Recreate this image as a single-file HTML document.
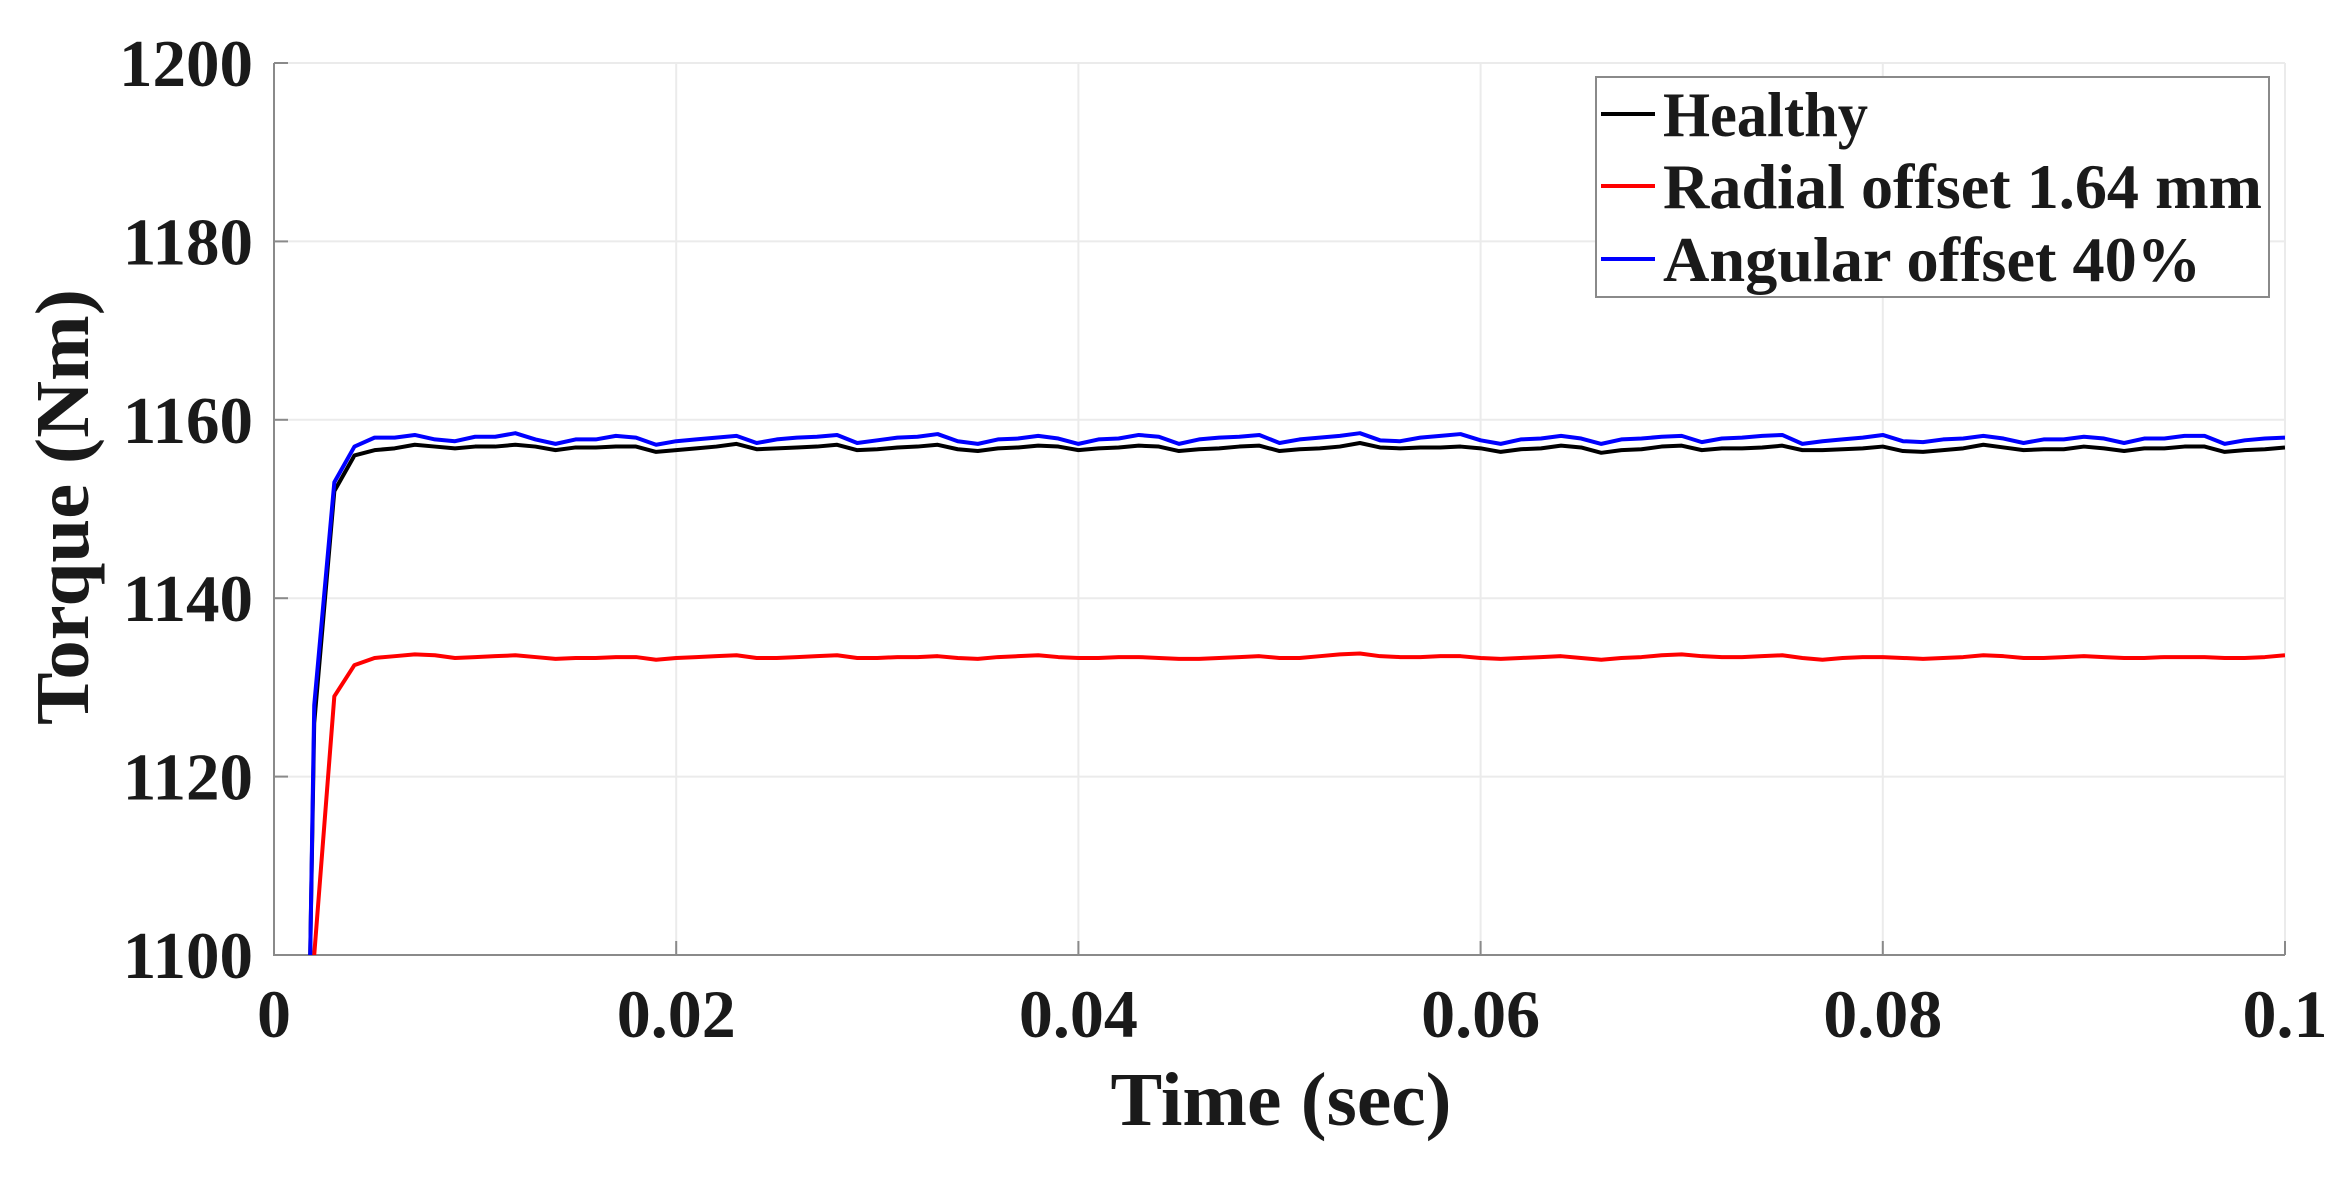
<!DOCTYPE html>
<html><head><meta charset="utf-8"><style>
html,body{margin:0;padding:0;background:#fff;}
svg{display:block;}
text{font-family:"Liberation Serif",serif;font-weight:bold;fill:#1a1a1a;}
</style></head><body>
<svg id="chart" width="2347" height="1179" viewBox="0 0 2347 1179" xmlns="http://www.w3.org/2000/svg">
<rect x="0" y="0" width="2347" height="1179" fill="#fff"/>
<g id="grid"></g>
<g id="axes"></g>
<g id="series"></g>
<g id="legend"></g>
</svg>
<script>
const xTicks = [0, 0.02, 0.04, 0.06, 0.08, 0.1];
const xTickLabels = ["0", "0.02", "0.04", "0.06", "0.08", "0.1"];
const yTicks = [1100, 1120, 1140, 1160, 1180, 1200];
const yTickLabels = ["1100", "1120", "1140", "1160", "1180", "1200"];
const seriesNames = ["Healthy", "Radial offset 1.64 mm", "Angular offset 40%"];
const startTimes = [0.0018, 0.002];
const healthy = [1100, 1126, 1152, 1156, 1156.6, 1156.8, 1157.2, 1157.0, 1156.8, 1157.0, 1157.0, 1157.2, 1157.0, 1156.6, 1156.9, 1156.9, 1157.0, 1157.0, 1156.4, 1156.6, 1156.8, 1157.0, 1157.3, 1156.7, 1156.8, 1156.9, 1157.0, 1157.2, 1156.6, 1156.7, 1156.9, 1157.0, 1157.2, 1156.7, 1156.5, 1156.8, 1156.9, 1157.1, 1157.0, 1156.6, 1156.8, 1156.9, 1157.1, 1157.0, 1156.5, 1156.7, 1156.8, 1157.0, 1157.1, 1156.5, 1156.7, 1156.8, 1157.0, 1157.4, 1156.9, 1156.8, 1156.9, 1156.9, 1157.0, 1156.8, 1156.4, 1156.7, 1156.8, 1157.1, 1156.9, 1156.3, 1156.6, 1156.7, 1157.0, 1157.1, 1156.6, 1156.8, 1156.8, 1156.9, 1157.1, 1156.6, 1156.6, 1156.7, 1156.8, 1157.0, 1156.5, 1156.4, 1156.6, 1156.8, 1157.2, 1156.9, 1156.6, 1156.7, 1156.7, 1157.0, 1156.8, 1156.5, 1156.8, 1156.8, 1157.0, 1157.0, 1156.4, 1156.6, 1156.7, 1156.9];
const radial = [1096, 1100, 1129, 1132.5, 1133.3, 1133.5, 1133.7, 1133.6, 1133.3, 1133.4, 1133.5, 1133.6, 1133.4, 1133.2, 1133.3, 1133.3, 1133.4, 1133.4, 1133.1, 1133.3, 1133.4, 1133.5, 1133.6, 1133.3, 1133.3, 1133.4, 1133.5, 1133.6, 1133.3, 1133.3, 1133.4, 1133.4, 1133.5, 1133.3, 1133.2, 1133.4, 1133.5, 1133.6, 1133.4, 1133.3, 1133.3, 1133.4, 1133.4, 1133.3, 1133.2, 1133.2, 1133.3, 1133.4, 1133.5, 1133.3, 1133.3, 1133.5, 1133.7, 1133.8, 1133.5, 1133.4, 1133.4, 1133.5, 1133.5, 1133.3, 1133.2, 1133.3, 1133.4, 1133.5, 1133.3, 1133.1, 1133.3, 1133.4, 1133.6, 1133.7, 1133.5, 1133.4, 1133.4, 1133.5, 1133.6, 1133.3, 1133.1, 1133.3, 1133.4, 1133.4, 1133.3, 1133.2, 1133.3, 1133.4, 1133.6, 1133.5, 1133.3, 1133.3, 1133.4, 1133.5, 1133.4, 1133.3, 1133.3, 1133.4, 1133.4, 1133.4, 1133.3, 1133.3, 1133.4, 1133.6];
const angular = [1100, 1128, 1153, 1157, 1158, 1158, 1158.3, 1157.8, 1157.6, 1158.1, 1158.1, 1158.5, 1157.8, 1157.3, 1157.8, 1157.8, 1158.2, 1158.0, 1157.2, 1157.6, 1157.8, 1158.0, 1158.2, 1157.4, 1157.8, 1158.0, 1158.1, 1158.3, 1157.4, 1157.7, 1158.0, 1158.1, 1158.4, 1157.6, 1157.3, 1157.8, 1157.9, 1158.2, 1157.9, 1157.3, 1157.8, 1157.9, 1158.3, 1158.1, 1157.3, 1157.8, 1158.0, 1158.1, 1158.3, 1157.4, 1157.8, 1158.0, 1158.2, 1158.5, 1157.7, 1157.6, 1158.0, 1158.2, 1158.4, 1157.7, 1157.3, 1157.8, 1157.9, 1158.2, 1157.9, 1157.3, 1157.8, 1157.9, 1158.1, 1158.2, 1157.5, 1157.9, 1158.0, 1158.2, 1158.3, 1157.3, 1157.6, 1157.8, 1158.0, 1158.3, 1157.6, 1157.5, 1157.8, 1157.9, 1158.2, 1157.9, 1157.4, 1157.8, 1157.8, 1158.1, 1157.9, 1157.4, 1157.9, 1157.9, 1158.2, 1158.2, 1157.3, 1157.7, 1157.9, 1158.0];

const NS = "http://www.w3.org/2000/svg";
const L = 274, R = 2285, T = 63, B = 955;
const xMin = 0, xMax = 0.1, yMin = 1100, yMax = 1200;
function xs(v){ return L + (v - xMin) / (xMax - xMin) * (R - L); }
function ys(v){ return B - (v - yMin) / (yMax - yMin) * (B - T); }
function mk(tag, attrs, parent){ const e = document.createElementNS(NS, tag); for (const k in attrs) e.setAttribute(k, attrs[k]); parent.appendChild(e); return e; }
function timeAt(i){ return i < startTimes.length ? startTimes[i] : 0.002 + (i - 1) * 0.001; }

const grid = document.getElementById('grid');
const axes = document.getElementById('axes');
xTicks.forEach((t, i) => {
  const g = mk('line', {x1: xs(t), x2: xs(t), y1: T, y2: B, stroke: '#ebebeb', 'stroke-width': 2}, grid);
  
  
  const tk = mk('line', {x1: xs(t), x2: xs(t), y1: B, y2: B - 14, stroke: '#8a8a8a', 'stroke-width': 2}, axes);
  
  
  const lb = mk('text', {x: xs(t), y: 1037, 'text-anchor': 'middle', 'font-size': 68}, axes);
  lb.textContent = xTickLabels[i];
  
  
});
yTicks.forEach((t, i) => {
  const g = mk('line', {x1: L, x2: R, y1: ys(t), y2: ys(t), stroke: '#ebebeb', 'stroke-width': 2}, grid);
  
  
  const tk = mk('line', {x1: L, x2: L + 14, y1: ys(t), y2: ys(t), stroke: '#8a8a8a', 'stroke-width': 2}, axes);
  
  
  const lb = mk('text', {x: 253, y: ys(t) + 23, 'text-anchor': 'end', 'font-size': 67}, axes);
  lb.textContent = yTickLabels[i];
  
  
});
const frame = mk('path', {d: `M${L},${T} V${B} H${R}`, fill: 'none', stroke: '#8a8a8a', 'stroke-width': 2}, axes);


const xt = mk('text', {x: 1281, y: 1125, 'text-anchor': 'middle', 'font-size': 76, textLength: 341, lengthAdjust: 'spacingAndGlyphs'}, axes);
xt.textContent = 'Time (sec)';


const yt = mk('text', {x: 0, y: 0, 'text-anchor': 'middle', 'font-size': 76, textLength: 436, lengthAdjust: 'spacingAndGlyphs', transform: 'translate(88,507) rotate(-90)'}, axes);
yt.textContent = 'Torque (Nm)';



const series = document.getElementById('series');
mk('clipPath', {id: 'clip'}, series).appendChild((() => { const r = document.createElementNS(NS, 'rect'); r.setAttribute('x', L); r.setAttribute('y', T); r.setAttribute('width', R - L); r.setAttribute('height', B - T); return r; })());
const colors = ['#000000', '#ff0000', '#0000ff'];
const data = [healthy, radial, angular];
const order = [1, 0, 2];
order.forEach(si => {
  const vals = data[si];
  const pts = vals.map((v, i) => xs(timeAt(i)).toFixed(2) + ',' + ys(v).toFixed(2)).join(' ');
  const pl = mk('polyline', {points: pts, fill: 'none', stroke: colors[si], 'stroke-width': 4, 'stroke-linejoin': 'round', 'clip-path': 'url(#clip)'}, series);
  
  
});

const legend = document.getElementById('legend');
const box = mk('rect', {x: 1596, y: 77, width: 673, height: 220, fill: '#fff', stroke: '#8a8a8a', 'stroke-width': 2}, legend);


const rowY = [114, 186, 259];
const textW = [205, 599, 538];
seriesNames.forEach((n, i) => {
  const ln = mk('line', {x1: 1601, x2: 1655, y1: rowY[i], y2: rowY[i], stroke: colors[i], 'stroke-width': 4}, legend);
  
  
  const tx = mk('text', {x: 1663, y: rowY[i] + 22, 'font-size': 64, textLength: textW[i], lengthAdjust: 'spacingAndGlyphs'}, legend);
  tx.textContent = n;
  
  
});
</script>
</body></html>
